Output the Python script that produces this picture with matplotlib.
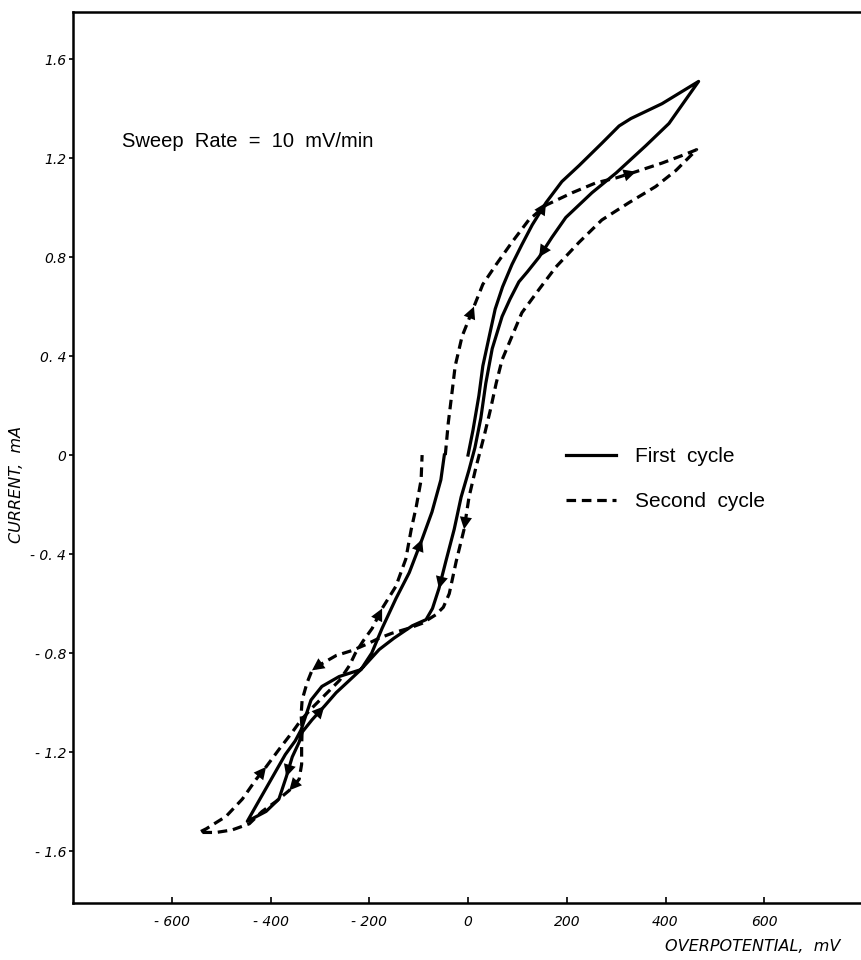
import matplotlib
matplotlib.use("Agg")
import matplotlib.pyplot as plt

# first cycle (solid), overpotential mV / current mA, in sweep order
c1_mv = [0, 10, 22, 30, 43, 55, 70, 89, 109, 130, 158, 190, 225, 271, 306, 330, 393, 467,
         407, 360, 300, 251, 198, 170, 144, 120, 103, 85, 69, 49, 36, 26, 14, 2, -14, -28,
         -45, -59, -72, -85, -113, -150, -180, -217, -240, -267, -291, -316, -336, -342,
         -356, -368, -383, -409, -447, -430, -410, -390, -370, -350, -338, -328, -318, -296,
         -261, -217, -195, -174, -146, -119, -93, -73, -55, -48]
c1_ma = [0.0, 0.10, 0.24, 0.36, 0.48, 0.59, 0.68, 0.77, 0.85, 0.93, 1.02, 1.105, 1.17, 1.26,
         1.33, 1.36, 1.42, 1.51, 1.34, 1.25, 1.14, 1.06, 0.96, 0.88, 0.80, 0.74, 0.70, 0.63,
         0.56, 0.43, 0.29, 0.15, 0.03, -0.06, -0.17, -0.30, -0.43, -0.54, -0.62, -0.665,
         -0.69, -0.74, -0.786, -0.867, -0.91, -0.96, -1.015, -1.07, -1.12, -1.16, -1.22,
         -1.30, -1.39, -1.44, -1.48, -1.42, -1.35, -1.28, -1.21, -1.155, -1.11, -1.05, -0.99,
         -0.935, -0.895, -0.867, -0.80, -0.70, -0.58, -0.475, -0.34, -0.23, -0.10, 0.0]

# second cycle (dashed)
c2_mv = [-46, -40, -32, -26, -12, 0, 12, 30, 57, 89, 123, 158, 211, 259, 300, 340, 393, 433,
         463, 421, 380, 326, 271, 225, 178, 144, 109, 89, 69, 57, 45, 33, 16, 2, -8, -24, -38,
         -50, -65, -93, -120, -154, -180, -206, -235, -267, -302, -316, -326, -336, -338,
         -336, -337, -337, -342, -362, -389, -417, -443, -478, -510, -545, -530, -490, -457,
         -429, -409, -383, -356, -338, -315, -290, -260, -240, -228, -212, -194, -174, -146,
         -126, -115, -105, -95, -93]
c2_ma = [0.0, 0.13, 0.26, 0.36, 0.48, 0.54, 0.60, 0.69, 0.77, 0.86, 0.95, 1.01, 1.06, 1.10,
         1.12, 1.145, 1.18, 1.21, 1.234, 1.15, 1.085, 1.02, 0.95, 0.86, 0.76, 0.67, 0.575,
         0.48, 0.385, 0.29, 0.18, 0.08, -0.05, -0.17, -0.30, -0.43, -0.56, -0.615, -0.645,
         -0.68, -0.70, -0.72, -0.74, -0.765, -0.79, -0.81, -0.85, -0.87, -0.92, -0.99, -1.05,
         -1.11, -1.18, -1.25, -1.31, -1.355, -1.40, -1.44, -1.49, -1.515, -1.525, -1.525,
         -1.51, -1.46, -1.39, -1.31, -1.26, -1.19, -1.12, -1.07, -1.02, -0.97, -0.91, -0.85,
         -0.80, -0.75, -0.70, -0.62, -0.53, -0.42, -0.30, -0.21, -0.10, 0.0]

# arrowheads: (tail index, head index) along each curve
c1_arrows = [(9, 10), (23, 24), (36, 37), (47, 46), (50, 51), (69, 70)]
c2_arrows = [(5, 6), (14, 15), (33, 34), (46, 47), (54, 55), (65, 66), (76, 77)]

x_ticks = [-600, -400, -200, 0, 200, 400, 600]
x_ticklabels = ["- 600", "- 400", "- 200", "0", "200", "400", "600"]
y_ticks = [1.6, 1.2, 0.8, 0.4, 0, -0.4, -0.8, -1.2, -1.6]
y_ticklabels = ["1.6", "1.2", "0.8", "0. 4", "0", "- 0. 4", "- 0.8", "- 1.2", "- 1.6"]

label_font = "Liberation Sans"

fig = plt.figure(figsize=(8.62, 9.6), dpi=100)
ax = fig.add_axes([0.0847, 0.0594, 0.9165, 0.928])

lw = 2.3
solid, = ax.plot(c1_mv, c1_ma, color="black", lw=lw, solid_joinstyle="round",
                 label="First  cycle")
dashed, = ax.plot(c2_mv, c2_ma, color="black", lw=lw, linestyle=(0, (3.0, 1.8)),
                  label="Second  cycle")


def add_arrows(xs, ys, pairs):
    for tail, head in pairs:
        ax.annotate("", xy=(xs[head], ys[head]), xytext=(xs[tail], ys[tail]),
                    arrowprops=dict(arrowstyle="-|>", color="black", lw=0,
                                    mutation_scale=22, shrinkA=0, shrinkB=0))


add_arrows(c1_mv, c1_ma, c1_arrows)
add_arrows(c2_mv, c2_ma, c2_arrows)

ax.set_xlim(-800, 800)
ax.set_ylim(-1.81, 1.79)
ax.spines["right"].set_visible(False)
for s in ["left", "bottom", "top"]:
    ax.spines[s].set_linewidth(1.8)

ax.set_xticks(x_ticks)
ax.set_xticklabels(x_ticklabels, fontsize=10, style="italic")
ax.set_yticks(y_ticks)
ax.set_yticklabels(y_ticklabels, fontsize=10, style="italic")
ax.tick_params(axis="x", direction="in", length=4, width=1.2, pad=9)
ax.tick_params(axis="y", direction="out", length=3, width=1.2, pad=2)

fig.text(0.019, 0.495, "CURRENT,  mA", rotation=90, fontsize=11.5, style="italic",
         ha="center", va="center")
fig.text(0.975, 0.006, "OVERPOTENTIAL,  mV", fontsize=11.5, style="italic",
         ha="right", va="bottom")

ax.text(0.062, 0.855, "Sweep  Rate  =  10  mV/min", transform=ax.transAxes,
        fontsize=14.5, family=label_font, va="center")

ax.legend(handles=[solid, dashed], loc="center left", bbox_to_anchor=(0.6, 0.476),
          frameon=False, prop={"family": label_font, "size": 15},
          handlelength=2.4, handletextpad=0.9, labelspacing=1.25)

fig.savefig("out.png", dpi=100)
